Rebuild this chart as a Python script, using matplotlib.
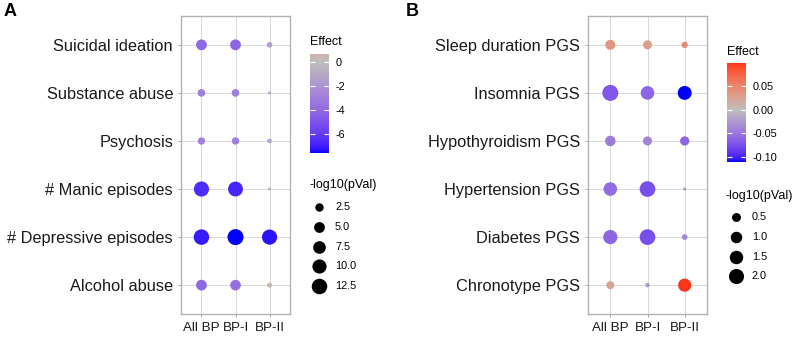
import matplotlib
matplotlib.use("Agg")
import matplotlib.pyplot as plt
import matplotlib.colors as mcolors
from matplotlib.cm import ScalarMappable
import numpy as np

plt.rcParams['font.family'] = ['Liberation Sans', 'DejaVu Sans']

groups = ["All BP", "BP-I", "BP-II"]

# panel A: clinical outcomes (top to bottom)
outcomes_a = ["Suicidal ideation", "Substance abuse", "Psychosis",
              "# Manic episodes", "# Depressive episodes", "Alcohol abuse"]
effect_a = [[-4.0, -4.2, -1.4],
            [-3.0, -3.0, -1.0],
            [-3.0, -3.0, -1.2],
            [-6.6, -6.8, -0.8],
            [-7.1, -7.6, -7.3],
            [-4.0, -3.6, 0.67]]
logp_a = [[5.0, 5.0, 0.73],
          [1.9, 1.9, 0.2],
          [1.7, 1.7, 0.4],
          [11.8, 11.3, 0.2],
          [12.5, 13.5, 11.8],
          [5.0, 4.8, 0.5]]
cbar_ticks_a = [0, -2, -4, -6]
cbar_labels_a = ["0", "-2", "-4", "-6"]
size_breaks_a = [2.5, 5.0, 7.5, 10.0, 12.5]
size_labels_a = ["2.5", "5.0", "7.5", "10.0", "12.5"]

# panel B: polygenic scores (top to bottom)
outcomes_b = ["Sleep duration PGS", "Insomnia PGS", "Hypothyroidism PGS",
              "Hypertension PGS", "Diabetes PGS", "Chronotype PGS"]
effect_b = [[0.035, 0.028, 0.045],
            [-0.070, -0.060, -0.111],
            [-0.045, -0.040, -0.060],
            [-0.055, -0.075, -0.030],
            [-0.060, -0.075, -0.040],
            [0.025, -0.025, 0.100]]
logp_b = [[0.70, 0.52, 0.18],
          [2.30, 1.54, 1.63],
          [0.78, 0.52, 0.55],
          [1.54, 2.19, 0.03],
          [1.72, 2.19, 0.12],
          [0.36, 0.06, 1.42]]
cbar_ticks_b = [0.05, 0.0, -0.05, -0.10]
cbar_labels_b = ["0.05", "0.00", "-0.05", "-0.10"]
size_breaks_b = [0.5, 1.0, 1.5, 2.0]
size_labels_b = ["0.5", "1.0", "1.5", "2.0"]

W, H, DPI = 796, 337, 100


# --- Lab interpolation like ggplot's scale_colour_gradient2 ---
WHITE = np.array([0.95047, 1.0, 1.08883])
M = np.array([[0.4124, 0.3576, 0.1805],
              [0.2126, 0.7152, 0.0722],
              [0.0193, 0.1192, 0.9505]])


def to_lab(c):
    rgb = np.array(mcolors.to_rgb(c))
    lin = np.where(rgb <= 0.04045, rgb / 12.92, ((rgb + 0.055) / 1.055) ** 2.4)
    xyz = M @ lin / WHITE
    f = np.where(xyz > 0.008856, np.cbrt(xyz), 7.787 * xyz + 16 / 116)
    return np.array([116 * f[1] - 16, 500 * (f[0] - f[1]), 200 * (f[1] - f[2])])


def from_lab(lab):
    fy = (lab[0] + 16) / 116
    fx = fy + lab[1] / 500
    fz = fy - lab[2] / 200
    f = np.array([fx, fy, fz])
    xyz = np.where(f ** 3 > 0.008856, f ** 3, (f - 16 / 116) / 7.787) * WHITE
    lin = np.linalg.solve(M, xyz)
    lin = np.clip(lin, 0, 1)
    rgb = np.where(lin <= 0.0031308, lin * 12.92, 1.055 * lin ** (1 / 2.4) - 0.055)
    return np.clip(rgb, 0, 1)


LOW, MID, HIGH = to_lab("blue"), to_lab("#BEBEBE"), to_lab("red")


def grad2(t):
    if t <= 0.5:
        return from_lab(LOW + (MID - LOW) * (t / 0.5))
    return from_lab(MID + (HIGH - MID) * ((t - 0.5) / 0.5))


def make_cmap(vals):
    v = np.array(vals)
    lo, hi = v.min(), v.max()
    m = max(abs(lo), abs(hi))
    ts = np.linspace(lo / m / 2 + 0.5, hi / m / 2 + 0.5, 256)
    return mcolors.ListedColormap([grad2(t) for t in ts]), mcolors.Normalize(lo, hi)


def size_px(v, lo, hi, dmin=3.0, dmax=16.0):
    return dmin + (dmax - dmin) * np.sqrt((np.asarray(v) - lo) / (hi - lo))


def s_pts(d_px):
    return (np.asarray(d_px) * 72 / DPI) ** 2


fig = plt.figure(figsize=(W / DPI, H / DPI), dpi=DPI)
overlay = fig.add_axes([0, 0, 1, 1], zorder=5)
overlay.set_xlim(0, W)
overlay.set_ylim(H, 0)
overlay.axis('off')
overlay.patch.set_alpha(0)


def panel(left, right, outcomes, effect, logp, letter, letter_x,
          cbar_box, cbar_ticks, cbar_labels, title_y,
          breaks, blabels, leg_x, leg_title_y, leg_y0):
    ax = fig.add_axes([left / W, 1 - 314 / H, (right - left) / W, 298 / H])
    cmap, norm = make_cmap(effect)
    lp = np.array(logp)
    lo, hi = lp.min(), lp.max()
    nrow = len(outcomes)
    for i, row in enumerate(outcomes):
        ax.scatter(range(len(groups)), [i] * len(groups),
                   s=s_pts(size_px(logp[i], lo, hi)),
                   c=effect[i], cmap=cmap, norm=norm, linewidths=0, zorder=3)
    ax.set_xlim(-0.6, len(groups) - 0.4)
    ax.set_ylim(nrow - 0.4, -0.6)
    ax.set_xticks(range(len(groups)))
    ax.set_xticklabels(groups, fontsize=9.6, color='#1a1a1a')
    ax.set_yticks(range(nrow))
    ax.set_yticklabels(outcomes, fontsize=11.8, color='#1a1a1a')
    ax.grid(True, color='#D9D9D9', linewidth=0.75)
    ax.set_axisbelow(True)
    ax.tick_params(length=2.2, width=0.6, color='#999999', pad=3.5)
    for sp in ax.spines.values():
        sp.set_color('#B3B3B3')
        sp.set_linewidth(1.0)

    overlay.text(letter_x, 11.5, letter, fontsize=13, fontweight='bold',
                 va='center', ha='left')

    # colour bar
    x0, x1, y0, y1 = cbar_box
    cax = fig.add_axes([x0 / W, 1 - y1 / H, (x1 - x0) / W, (y1 - y0) / H])
    cb = fig.colorbar(ScalarMappable(norm=norm, cmap=cmap), cax=cax)
    cb.outline.set_visible(False)
    cb.set_ticks(cbar_ticks)
    cb.set_ticklabels(cbar_labels)
    cax.tick_params(axis='y', direction='in', length=3.5, width=0.8,
                    color='white', left=True, right=True,
                    labelleft=False, labelright=True, labelsize=7.8, pad=4.5)
    overlay.text(x0, title_y, "Effect", fontsize=9, va='center', ha='left')

    # size legend
    overlay.text(leg_x - 10, leg_title_y, "-log10(pVal)", fontsize=9,
                 va='center', ha='left')
    for k, (b, lab) in enumerate(zip(breaks, blabels)):
        yk = leg_y0 + k * 19.8
        overlay.scatter([leg_x], [yk], s=s_pts(size_px(b, lo, hi)),
                        color='black', linewidths=0)
        overlay.text(leg_x + 16, yk, lab, fontsize=7.8, va='center', ha='left')


panel(181, 290, outcomes_a, effect_a, logp_a, "A", 4,
      (310, 329, 54, 153), cbar_ticks_a, cbar_labels_a, 42,
      size_breaks_a, size_labels_a, 319, 185, 207)
panel(588, 707, outcomes_b, effect_b, logp_b, "B", 406,
      (727, 746, 63, 162), cbar_ticks_b, cbar_labels_b, 52,
      size_breaks_b, size_labels_b, 736, 196, 217)

fig.savefig("out.png", dpi=DPI)
